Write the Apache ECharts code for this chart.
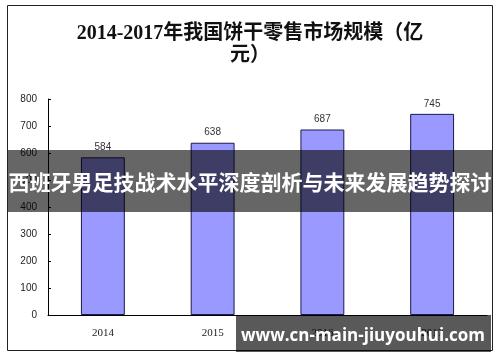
<!DOCTYPE html>
<html>
<head>
<meta charset="utf-8">
<script src="https://cdn.jsdelivr.net/npm/echarts@6/dist/echarts.min.js"></script>
<style>
html,body{margin:0;padding:0;background:#fff;}
#c{width:500px;height:362px;}
</style>
</head>
<body>
<div id="c"></div>
<script>
var titleText = '2014-2017年我国饼干零售市场规模（亿\n元）';
var categories = ['2014', '2015', '2016', '2017'];
var values = [584, 638, 687, 745];
var yMin = 0, yMax = 800, yInterval = 100;
var bannerText = '西班牙男足技战术水平深度剖析与未来发展趋势探讨';
var watermarkText = 'www.cn-main-jiuyouhui.com';

var chart = echarts.init(document.getElementById('c'), null, {renderer: 'canvas'});
chart.setOption({
  animation: false,
  backgroundColor: '#fff',
  title: {
    text: titleText,
    left: 'center',
    top: 18,
    textStyle: {
      fontFamily: '"Liberation Serif", "Noto Sans CJK SC"',
      fontSize: 20,
      fontWeight: 'bold',
      color: '#111',
      lineHeight: 22
    }
  },
  grid: {left: 48, right: 13, top: 99, bottom: 47},
  xAxis: {
    type: 'category',
    data: categories,
    axisLine: {lineStyle: {color: '#000', width: 1}},
    axisTick: {inside: true, length: 4, lineStyle: {color: '#000'}},
    axisLabel: {
      margin: 13,
      fontSize: 11,
      color: '#222',
      fontFamily: '"Liberation Serif", serif'
    }
  },
  yAxis: {
    type: 'value',
    min: yMin, max: yMax, interval: yInterval,
    axisLine: {show: true, lineStyle: {color: '#000', width: 1}},
    axisTick: {show: true, inside: true, length: 3, lineStyle: {color: '#000'}},
    splitLine: {show: false},
    axisLabel: {
      margin: 11,
      fontSize: 10,
      color: '#222',
      fontFamily: '"Liberation Sans", sans-serif'
    }
  },
  series: [{
    type: 'bar',
    data: values,
    barWidth: '40%',
    itemStyle: {color: '#9999FF', borderColor: '#1a1a4d', borderWidth: 1},
    label: {
      show: true,
      position: 'top',
      distance: 5,
      fontSize: 10,
      color: '#333',
      fontFamily: '"Liberation Sans", sans-serif'
    }
  }],
  graphic: [
    {
      type: 'rect', z: 100, silent: true,
      shape: {x: 7.5, y: 5.5, width: 485, height: 345},
      style: {fill: 'none', stroke: '#222', lineWidth: 1}
    },
    {
      type: 'rect', z: 101, silent: true,
      shape: {x: 8, y: 150, width: 484, height: 62},
      style: {fill: 'rgba(0,0,0,0.6)'}
    },
    {
      type: 'text', z: 102, silent: true,
      x: 250, y: 182,
      style: {
        text: bannerText,
        fill: '#fff',
        font: 'bold 21px "Noto Sans CJK SC"',
        textAlign: 'center',
        textVerticalAlign: 'middle'
      }
    },
    {
      type: 'rect', z: 101, silent: true,
      shape: {x: 236, y: 315, width: 255, height: 37},
      style: {fill: 'rgba(0,0,0,0.65)'}
    },
    {
      type: 'text', z: 102, silent: true,
      x: 363, y: 336,
      style: {
        text: watermarkText,
        fill: '#fff',
        font: 'bold 17px "Open Sans", "DejaVu Sans", sans-serif',
        textAlign: 'center',
        textVerticalAlign: 'middle'
      }
    }
  ]
});
</script>
</body>
</html>
